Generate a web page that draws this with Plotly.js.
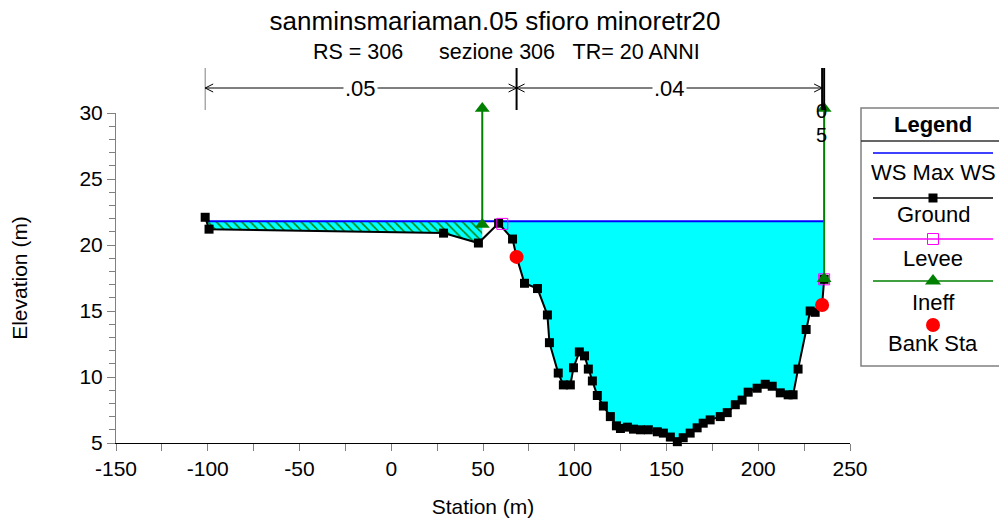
<!DOCTYPE html>
<html><head><meta charset="utf-8">
<script src="https://cdn.plot.ly/plotly-3.0.1.min.js"></script>
<style>html,body{margin:0;padding:0;background:#fff}#chart{width:999px;height:522px}</style>
</head><body><div id="chart"></div>
<script>
// ---- data ----
const groundX = [-101.4, -99.3, 28.5, 47.5, 58.5, 66.1, 68.3, 72.6, 79.7, 85.1, 86.2, 91.0, 93.8, 97.6, 99.3, 102.5, 105.3, 107.4, 109.6, 112.3, 115.6, 119.4, 122.7, 124.9, 128.7, 132.0, 135.8, 140.1, 145.0, 148.3, 152.1, 155.9, 159.1, 162.9, 166.7, 170.0, 173.8, 179.3, 183.1, 187.5, 191.2, 194.5, 199.4, 203.8, 207.6, 212.0, 216.3, 219.0, 221.7, 226.1, 228.3, 231.0, 234.8, 235.9];
const groundY = [22.1, 21.2, 20.9, 20.15, 21.65, 20.45, 19.1, 17.1, 16.7, 14.7, 12.6, 10.3, 9.4, 9.4, 10.7, 11.9, 11.6, 10.6, 9.7, 8.6, 7.8, 7.0, 6.3, 6.1, 6.2, 6.05, 6.0, 6.0, 5.85, 5.75, 5.45, 5.1, 5.4, 5.75, 6.15, 6.5, 6.75, 7.0, 7.3, 7.9, 8.25, 8.85, 9.15, 9.45, 9.3, 8.8, 8.65, 8.65, 10.6, 13.6, 15.0, 14.9, 15.45, 17.4];
const wsElev = 21.8;
const leveeX = [60.5, 235.9];
const leveeY = [21.6, 17.4];
const ineffX = [49.6, 235.9];
const ineffY = [21.55, 17.45];
const ineffTop = 30.35;
const bankX = [68.3, 234.8];
const bankY = [19.1, 15.45];
const nX = [-101.4, 68.3, 234.8, 235.9];
const nVal = ['.05', '.04', '.05'];
const xTickVals = [-150, -100, -50, 0, 50, 100, 150, 200, 250];
const yTickVals = [5, 10, 15, 20, 25, 30];
const legendNames = ['WS Max WS', 'Ground', 'Levee', 'Ineff', 'Bank Sta'];
const titleText = 'sanminsmariaman.05 sfioro minoretr20';
const subTitleText = 'RS = 306\u00a0\u00a0\u00a0\u00a0\u00a0 sezione 306\u00a0\u00a0 TR= 20 ANNI';

// ---- geometry helpers ----
const W = 999, H = 522, L = 116, T = 60, B = 79;
const PW = W - L, PH = H - T - B;
const plotRightPx = 850, plotTopPx = 113, plotBottomPx = 443;
const xr = [-150, 250], yr = [5, 30];
const pxX = p => (p - L) / PW;
const pxY = p => (plotBottomPx - p) / PH;
const elevToPaper = e => (e - yr[0]) / (yr[1] - yr[0]) * pxY(plotTopPx);
const mPerPx = (xr[1] - xr[0]) / (plotRightPx - L);
const elevPerPx = (yr[1] - yr[0]) / (plotBottomPx - plotTopPx);
const FONT = 'Arial, "Liberation Sans", sans-serif';

function groundAt(x) {
  for (let i = 1; i < groundX.length; i++) {
    if (x <= groundX[i]) {
      const t = (x - groundX[i - 1]) / (groundX[i] - groundX[i - 1]);
      return groundY[i - 1] + t * (groundY[i] - groundY[i - 1]);
    }
  }
  return groundY[groundY.length - 1];
}
function waterPoly(x0, x1) {
  const xs = [x0, ...groundX.filter(x => x > x0 && x < x1), x1];
  const px = [], py = [];
  for (let i = 0; i < xs.length; i++) {
    const g = groundAt(xs[i]);
    if (i > 0) {
      const gp = groundAt(xs[i - 1]);
      if ((gp - wsElev) * (g - wsElev) < 0) {
        const t = (wsElev - gp) / (g - gp);
        px.push(xs[i - 1] + t * (xs[i] - xs[i - 1])); py.push(wsElev);
      }
    }
    px.push(xs[i]); py.push(Math.min(g, wsElev));
  }
  px.push(x1, x0, x0); py.push(wsElev, wsElev, py[0]);
  return {x: px, y: py};
}
let wsStart = groundX[0];
for (let i = 1; i < groundX.length; i++) {
  if ((groundY[i - 1] - wsElev) * (groundY[i] - wsElev) < 0) {
    const t = (wsElev - groundY[i - 1]) / (groundY[i] - groundY[i - 1]);
    wsStart = groundX[i - 1] + t * (groundX[i] - groundX[i - 1]);
    break;
  }
}

const hatch = waterPoly(groundX[0], ineffX[0]);
const chan = waterPoly(leveeX[0], leveeX[1]);

const traces = [
  {x: hatch.x, y: hatch.y, mode: 'lines', line: {width: 0}, fill: 'toself',
   fillcolor: '#00ffff', fillpattern: {shape: '\\', fgcolor: '#008000', bgcolor: '#00ffff', size: 6, solidity: 0.25},
   hoverinfo: 'skip', showlegend: false},
  {x: chan.x, y: chan.y, mode: 'lines', line: {width: 0}, fill: 'toself', fillcolor: '#00ffff',
   hoverinfo: 'skip', showlegend: false},
  {x: [wsStart, leveeX[1]], y: [wsElev, wsElev], mode: 'lines', line: {color: '#0000ff', width: 2},
   name: legendNames[0], showlegend: false},
  {x: groundX, y: groundY, mode: 'lines+markers', line: {color: '#000000', width: 2},
   marker: {symbol: 'square', size: 9, color: '#000000'}, name: legendNames[1], showlegend: false, cliponaxis: false},
  {x: leveeX, y: leveeY, mode: 'markers', marker: {symbol: 'square-open', size: 11, color: '#ff00ff', line: {width: 1}},
   name: legendNames[2], showlegend: false},
  // ineffective flow markers drawn on an extended overlay axis (same scale) so the top ones are not hidden
  {x: ineffX.concat(ineffX), y: ineffY.concat(ineffX.map(() => ineffTop)), xaxis: 'x3', yaxis: 'y3', mode: 'markers',
   marker: {symbol: 'triangle-up', size: 13, color: '#008000'}, name: legendNames[3], showlegend: false, cliponaxis: false},
  {x: bankX, y: bankY, mode: 'markers', marker: {symbol: 'circle', size: 14, color: '#ff0000'},
   name: legendNames[4], showlegend: false},
];

// ---- legend (custom, drawn in pixel-ranged overlay axes) ----
const legX = 933;
const legRowLine = [153, 198, 239, 281, 325];
const legRowText = [173, 215, 258, 302, 343];
const legColors = ['#0000ff', '#000000', '#ff00ff', '#008000', '#ff0000'];
const legMarkers = [null, {symbol: 'square', size: 9, color: '#000000'},
  {symbol: 'square-open', size: 11, color: '#ff00ff', line: {width: 1}},
  {symbol: 'triangle-up', size: 14, color: '#008000'},
  {symbol: 'circle', size: 14, color: '#ff0000'}];
legMarkers.forEach((m, i) => {
  if (!m) return;
  traces.push({x: [legX], y: [legRowLine[i]], xaxis: 'x2', yaxis: 'y2', mode: 'markers', marker: m,
    showlegend: false, hoverinfo: 'skip'});
});

const shapes = [];
const annotations = [];
shapes.push({type: 'rect', xref: 'x2', yref: 'y2', x0: 861, x1: 1010, y0: 108, y1: 366, line: {color: '#808080', width: 1.5}});
shapes.push({type: 'line', xref: 'x2', yref: 'y2', x0: 861, x1: 999, y0: 141, y1: 141, line: {color: '#333333', width: 1.5}});
annotations.push({xref: 'x2', yref: 'y2', x: legX, y: 125, text: '<b>Legend</b>', showarrow: false,
  font: {family: FONT, size: 22, color: '#000'}, xanchor: 'center', yanchor: 'middle'});
legendNames.forEach((n, i) => {
  if (i < 4) shapes.push({type: 'line', xref: 'x2', yref: 'y2', x0: 873, x1: 993, y0: legRowLine[i], y1: legRowLine[i],
    line: {color: legColors[i], width: 1.5}, layer: 'below'});
  annotations.push({xref: 'x2', yref: 'y2', x: legX, y: legRowText[i], text: n, showarrow: false,
    font: {family: FONT, size: 22, color: '#000'}, xanchor: 'center', yanchor: 'middle'});
});

// ---- ineffective flow vertical lines ----
ineffX.forEach((x, i) => {
  shapes.push({type: 'line', xref: 'x', yref: 'paper', x0: x, x1: x, y0: elevToPaper(ineffY[i]), y1: elevToPaper(ineffTop),
    line: {color: '#008000', width: 2}});
});

// ---- Manning's n bars ----
const nTop = pxY(68), nBot = pxY(110), nMid = pxY(88);
nX.forEach((x, i) => {
  shapes.push({type: 'line', xref: 'x', yref: 'paper', x0: x, x1: x, y0: nBot, y1: nTop,
    line: {color: i === 0 ? '#808080' : '#000000', width: i === 0 ? 1 : 2}});
});
const ahX = 8 * mPerPx, ahY = 4 / PH;
nVal.forEach((v, i) => {
  const a = nX[i], b = nX[i + 1];
  const c = (a + b) / 2;
  if ((b - a) / mPerPx > 60) {
    shapes.push({type: 'line', xref: 'x', yref: 'paper', x0: a, x1: b, y0: nMid, y1: nMid, line: {color: '#000', width: 1}});
    shapes.push({type: 'path', xref: 'x', yref: 'paper', line: {color: '#000', width: 1},
      path: `M${a + ahX},${nMid + ahY} L${a},${nMid} L${a + ahX},${nMid - ahY}`});
    shapes.push({type: 'path', xref: 'x', yref: 'paper', line: {color: '#000', width: 1},
      path: `M${b - ahX},${nMid + ahY} L${b},${nMid} L${b - ahX},${nMid - ahY}`});
    annotations.push({xref: 'x', yref: 'paper', x: c, y: nMid, text: v, showarrow: false, bgcolor: '#ffffff',
      font: {family: FONT, size: 22, color: '#000'}, xanchor: 'center', yanchor: 'middle', borderpad: 1});
  } else {
    // too narrow: digits stacked vertically
    v.slice(1).split('').forEach((ch, k) => {
      annotations.push({xref: 'x', yref: 'paper', x: c - 1.5 * mPerPx, y: pxY(111 + 24 * k), text: ch, showarrow: false,
        font: {family: FONT, size: 20, color: '#000'}, xanchor: 'center', yanchor: 'middle', borderpad: 0});
    });
  }
});

annotations.push({xref: 'paper', yref: 'paper', x: pxX(506), y: pxY(52), text: subTitleText, showarrow: false,
  font: {family: FONT, size: 21.5, color: '#000'}, xanchor: 'center', yanchor: 'middle'});

const axTitleFont = {family: FONT, size: 21, color: '#000'};
const tickFont = {family: FONT, size: 21, color: '#000'};
const layout = {
  width: W, height: H,
  margin: {l: L, r: 0, t: T, b: B, pad: 0},
  paper_bgcolor: '#ffffff', plot_bgcolor: 'rgba(0,0,0,0)',
  showlegend: false,
  font: {family: FONT, size: 18, color: '#000'},
  title: {text: titleText, x: 495 / W, xref: 'container', xanchor: 'center', y: 1 - 21 / H, yref: 'container', yanchor: 'middle',
    font: {family: FONT, size: 26, color: '#000'}},
  xaxis: {domain: [0, pxX(plotRightPx)], range: xr, tickmode: 'array', tickvals: xTickVals, ticktext: xTickVals.map(String),
    ticks: 'outside', ticklen: 7, tickcolor: '#808080',
    showline: true, linecolor: '#000', linewidth: 1, showgrid: false, zeroline: false,
    minor: {dtick: 25, tick0: 0, ticks: 'outside', ticklen: 7, tickcolor: '#808080', showgrid: false},
    tickfont: tickFont,
    title: {text: 'Station (m)', font: axTitleFont, standoff: 20}},
  yaxis: {domain: [0, pxY(plotTopPx)], range: yr, tickmode: 'array', tickvals: yTickVals, ticktext: yTickVals.map(String),
    ticks: 'outside', ticklen: 8, tickcolor: '#808080',
    showline: true, linecolor: '#808080', linewidth: 1, showgrid: false, zeroline: false,
    minor: {dtick: 1, tick0: 0, ticks: 'outside', ticklen: 6, tickcolor: '#808080', showgrid: false},
    tickfont: tickFont,
    title: {text: 'Elevation (m)', font: axTitleFont, standoff: 46}},
  xaxis2: {domain: [pxX(860), 1], range: [860, 999], visible: false, fixedrange: true, anchor: 'y2'},
  yaxis2: {domain: [pxY(367), pxY(107)], range: [367, 107], visible: false, fixedrange: true, anchor: 'x2'},
  xaxis3: {domain: [0, pxX(plotRightPx)], range: xr, visible: false, fixedrange: true, anchor: 'y3'},
  yaxis3: {domain: [0, 1], range: [yr[0], yr[0] + PH * elevPerPx], visible: false, fixedrange: true, anchor: 'x3'},
  shapes: shapes,
  annotations: annotations,
};

Plotly.newPlot('chart', traces, layout, {displayModeBar: false, staticPlot: true});
</script></body></html>
